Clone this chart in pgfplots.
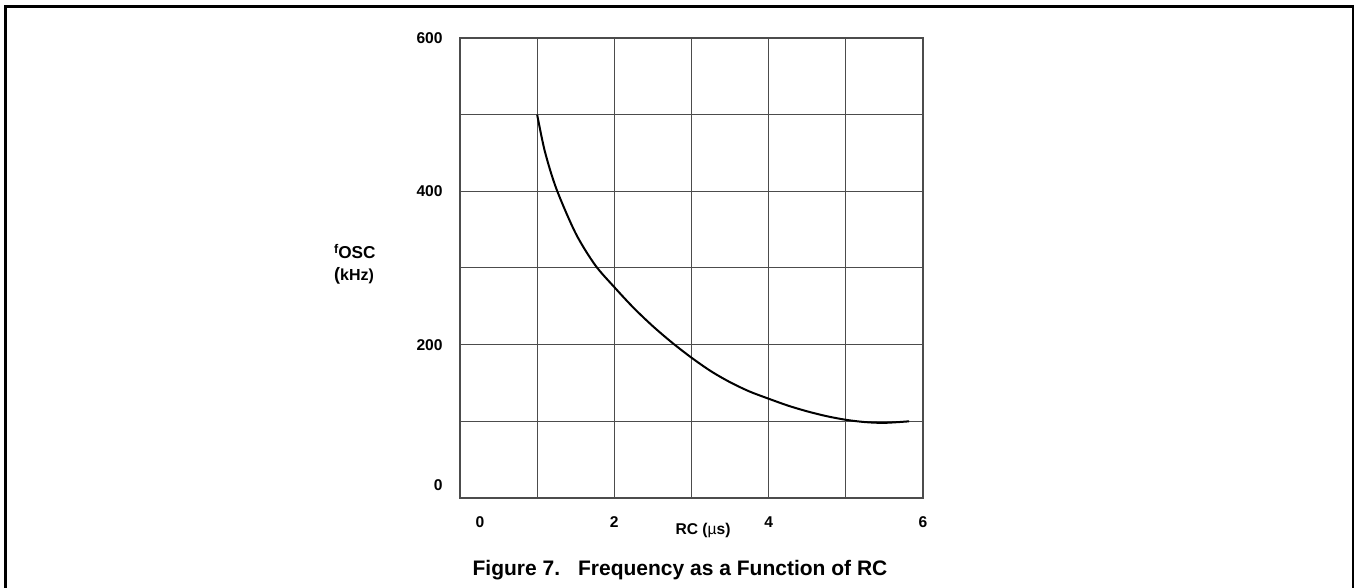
\documentclass[border=0pt]{standalone}
\usepackage{pgfplots}
\pgfplotsset{compat=1.18}
\usepackage{fontspec}
\setmainfont{Liberation Sans}

% f_osc against RC
\pgfplotstableread{
rc    f
1.00  500
1.10  452
1.25  403
1.50  345
1.75  304
2.00  275
2.25  248
2.50  224
2.75  202.5
3.00  183
3.25  165.5
3.50  151
3.75  139
4.00  129.5
4.25  120.5
4.50  113
4.75  106.75
5.00  102
5.25  99
5.50  98
5.82  100
}\fosc

\begin{document}
\begin{tikzpicture}
\path[use as bounding box] (0,0) rectangle (678pt,294pt);
\draw[line width=1.25pt] (2.65pt,-2pt) -- (2.65pt,290.65pt) -- (676.5pt,290.65pt) -- (676.5pt,-2pt);

\begin{axis}[
    at={(230pt,45pt)}, anchor=south west,
    scale only axis,
    width=231.5pt, height=230pt,
    xmin=0, xmax=6, ymin=0, ymax=600,
    xtick={0,...,6}, xticklabels={,,2,,4,,6},
    ytick={0,100,...,600}, yticklabels={,,200,,400,,600},
    extra x ticks={0}, extra x tick labels={0},
    extra x tick style={grid=none, xticklabel style={xshift=10pt}},
    extra y ticks={0}, extra y tick labels={0},
    extra y tick style={grid=none, yticklabel style={yshift=6.5pt}},
    major tick length=0pt,
    grid=major,
    grid style={black!70, line width=0.5pt},
    axis line style={black!70, line width=0.6pt},
    tick label style={font=\bfseries\fontsize{7.8}{9}\selectfont, inner sep=0pt},
    xticklabel style={anchor=center, yshift=-12pt},
    yticklabel style={anchor=east, xshift=-8.5pt},
    /pgf/number format/assume math mode=true,
    xlabel={RC ({\mdseries µ}s)},
    xlabel style={font=\bfseries\fontsize{7.8}{9}\selectfont, inner sep=0pt,
        at={(axis description cs:0.525,-0.07)}, anchor=center},
    ylabel={{\fontsize{6.3}{7}\selectfont\raisebox{2.8pt}{f}}{\fontsize{8.6}{9}\selectfont OSC}\\[-1pt]{\fontsize{9}{9}\selectfont(}{\fontsize{8}{9}\selectfont kHz)}},
    ylabel style={font=\bfseries, rotate=-90, align=left, inner sep=0pt,
        at={(axis description cs:-0.227,0.508)}, anchor=center},
]
\addplot[black, line width=1pt, smooth, tension=0.5] table[x=rc, y=f] {\fosc};
\end{axis}

\node[font=\bfseries\fontsize{10.5}{12}\selectfont] at (340pt,9pt)
    {Figure 7.\hspace{9pt}Frequency as a Function of RC};
\end{tikzpicture}
\end{document}
